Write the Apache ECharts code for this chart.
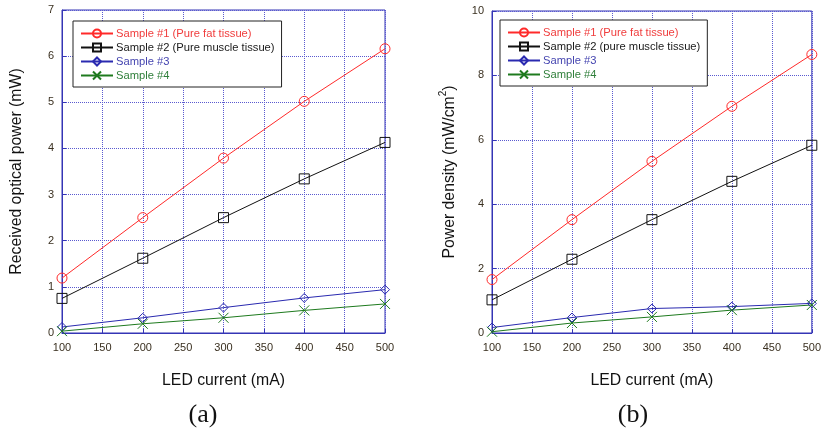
<!DOCTYPE html>
<html>
<head>
<meta charset="utf-8">
<script src="https://cdn.jsdelivr.net/npm/echarts@6/dist/echarts.min.js"></script>
<style>
html,body{margin:0;padding:0;background:#fff;}
#c{width:824px;height:431px;}
</style>
</head>
<body>
<div id="c"></div>
<script>
// ---- data ----
const currents = [100, 200, 300, 400, 500];
const xTicks = [100, 150, 200, 250, 300, 350, 400, 450, 500];

const namesA = ['Sample #1 (Pure fat tissue)', 'Sample #2 (Pure muscle tissue)', 'Sample #3', 'Sample #4'];
const namesB = ['Sample #1 (Pure fat tissue)', 'Sample #2 (pure muscle tissue)', 'Sample #3', 'Sample #4'];

// (a) Received optical power (mW)
const powerS1 = [1.19, 2.50, 3.79, 5.02, 6.16];
const powerS2 = [0.75, 1.62, 2.50, 3.34, 4.13];
const powerS3 = [0.13, 0.33, 0.55, 0.76, 0.94];
const powerS4 = [0.04, 0.20, 0.33, 0.49, 0.63];

// (b) Power density (mW/cm^2)
const densS1 = [1.66, 3.52, 5.33, 7.04, 8.65];
const densS2 = [1.03, 2.29, 3.52, 4.71, 5.83];
const densS3 = [0.17, 0.48, 0.76, 0.82, 0.92];
const densS4 = [0.04, 0.31, 0.50, 0.71, 0.87];

const colors = ['#ff2a2a', '#111111', '#2a2ab0', '#1e7a1e'];
const textColors = ['#f03c3c', '#1a1a1a', '#4545b0', '#2f7f3a'];
const symbols = ['circle', 'rect', 'diamond', 'path://M0,0L10,10M0,10L10,0'];
const symbolSizes = [10, 10, [9, 9], 10];

const axisBlue = '#3535b5';
const gridBlue = '#5a5ad0';
const font = 'Liberation Sans, Arial, sans-serif';

function mkPairs(vals){ return currents.map((c,i)=>[c, vals[i]]); }

function mkSeries(names, arrs, idx){
  return arrs.map((a,i)=>({
    type:'line', name:names[i], xAxisIndex:idx, yAxisIndex:idx,
    data: mkPairs(a),
    symbol: symbols[i], symbolSize: symbolSizes[i],
    showAllSymbol:true,
    lineStyle:{color:colors[i], width:1},
    itemStyle:{color:'rgba(0,0,0,0)', borderColor:colors[i], borderWidth:1},
    emphasis:{disabled:true},
    animation:false, z: 3
  }));
}

function xAxis(idx){
  return {
    type:'value', gridIndex:idx, min:100, max:500, interval:50,
    name:'LED current (mA)', nameLocation:'middle', nameGap:40,
    nameTextStyle:{fontFamily:font, fontSize:15.8, color:'#111'},
    axisLine:{show:true, lineStyle:{color:axisBlue, width:1}},
    axisTick:{show:true, inside:true, length:4, lineStyle:{color:axisBlue}},
    axisLabel:{fontFamily:font, fontSize:11, color:'#3a3020', margin:9},
    splitLine:{show:true, lineStyle:{color:gridBlue, type:[1,1], width:1}}
  };
}
function yAxis(idx, max, interval, name, gap, rich){
  const o = {
    type:'value', gridIndex:idx, min:0, max:max, interval:interval,
    name:name, nameLocation:'middle', nameGap:gap, nameRotate:90,
    nameTextStyle:{fontFamily:font, fontSize:15.8, color:'#111'},
    axisLine:{show:true, lineStyle:{color:axisBlue, width:1}},
    axisTick:{show:true, inside:true, length:4, lineStyle:{color:axisBlue}},
    axisLabel:{fontFamily:font, fontSize:11, color:'#3a3020', margin:8},
    splitLine:{show:true, lineStyle:{color:gridBlue, type:[1,1], width:1}}
  };
  if (rich) o.nameTextStyle.rich = rich;
  return o;
}
function legend(names, left, top){
  return {
    orient:'vertical', left:left, top:top,
    data: names.map((n,i)=>({name:n, textStyle:{color:textColors[i]}})),
    itemWidth:32, itemHeight:10, itemGap:3,
    padding:[7,7,6,7],
    borderColor:'#222', borderWidth:1, backgroundColor:'#fff',
    textStyle:{fontFamily:font, fontSize:11.2, lineHeight:10, padding:[0,0,0,-2]},
    selectedMode:false
  };
}

const chart = echarts.init(document.getElementById('c'), null, {renderer:'canvas'});
chart.setOption({
  animation:false,
  backgroundColor:'#fff',
  grid:[
    {left:62, top:10, width:323, height:323, show:true, borderColor:axisBlue, borderWidth:1, backgroundColor:'transparent'},
    {left:492, top:11, width:321, height:322, show:true, borderColor:axisBlue, borderWidth:1, backgroundColor:'transparent'}
  ],
  xAxis:[xAxis(0), xAxis(1)],
  yAxis:[
    yAxis(0, 7, 1, 'Received optical power (mW)', 37),
    yAxis(1, 10, 2, '{a|Power density (mW/cm}{s|2}{a|)}', 34, {
      a:{fontFamily:font, fontSize:15.8, color:'#111', verticalAlign:'bottom', lineHeight:20},
      s:{fontFamily:font, fontSize:10, color:'#111', verticalAlign:'top', lineHeight:20, padding:[0,0,12,0]}
    })
  ],
  legend:[legend(namesA, 73, 21), legend(namesB, 500, 20)],
  title:[
    {text:'(a)', left:198, top:397, textAlign:'center', textStyle:{fontFamily:'Liberation Serif, Times New Roman, serif', fontSize:26, fontWeight:'normal', color:'#111'}},
    {text:'(b)', left:628, top:397, textAlign:'center', textStyle:{fontFamily:'Liberation Serif, Times New Roman, serif', fontSize:26, fontWeight:'normal', color:'#111'}}
  ],
  series:[
    ...mkSeries(namesA, [powerS1, powerS2, powerS3, powerS4], 0),
    ...mkSeries(namesB, [densS1, densS2, densS3, densS4], 1)
  ]
});
</script>
</body>
</html>
